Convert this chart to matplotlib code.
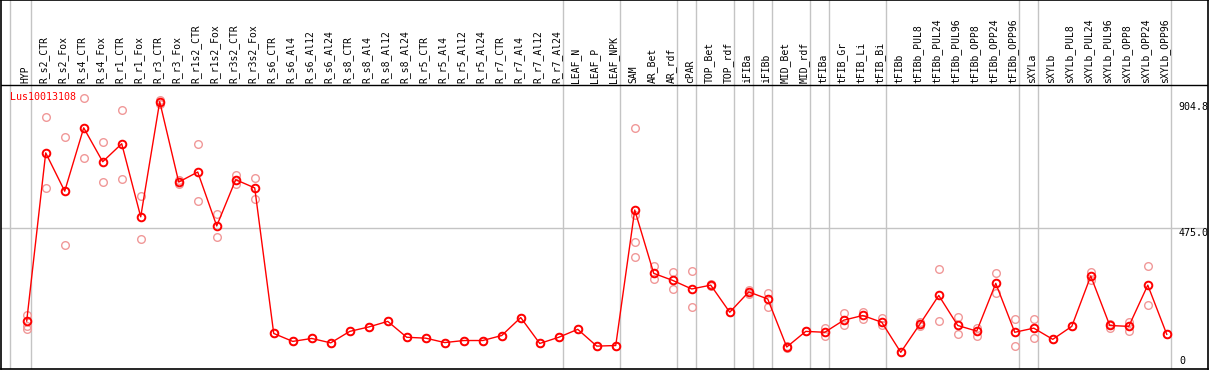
import matplotlib.pyplot as plt
import numpy as np

# samples (x axis)
samples = ["HYP", "R_s2_CTR", "R_s2_Fox", "R_s4_CTR", "R_s4_Fox", "R_r1_CTR", "R_r1_Fox",
           "R_r3_CTR", "R_r3_Fox", "R_r1s2_CTR", "R_r1s2_Fox", "R_r3s2_CTR", "R_r3s2_Fox",
           "R_s6_CTR", "R_s6_Al4", "R_s6_Al12", "R_s6_Al24", "R_s8_CTR", "R_s8_Al4",
           "R_s8_Al12", "R_s8_Al24", "R_r5_CTR", "R_r5_Al4", "R_r5_Al12", "R_r5_Al24",
           "R_r7_CTR", "R_r7_Al4", "R_r7_Al12", "R_r7_Al24", "LEAF_N", "LEAF_P", "LEAF_NPK",
           "SAM", "AR_Bet", "AR_rdf", "cPAR", "TOP_Bet", "TOP_rdf", "iFIBa", "iFIBb",
           "MID_Bet", "MID_rdf", "tFIBa", "tFIB_Gr", "tFIB_Li", "tFIB_Bi", "tFIBb",
           "tFIBb_PUL8", "tFIBb_PUL24", "tFIBb_PUL96", "tFIBb_OPP8", "tFIBb_OPP24",
           "tFIBb_OPP96", "sXYLa", "sXYLb", "sXYLb_PUL8", "sXYLb_PUL24", "sXYLb_PUL96",
           "sXYLb_OPP8", "sXYLb_OPP24", "sXYLb_OPP96"]

# mean expression
means = [160, 731, 601, 816, 701, 762, 514, 904.8, 632, 666, 483, 640, 612,
         118, 91, 101, 86, 125, 140, 159, 105, 102, 87, 94, 94, 111, 172, 84, 105,
         132, 75, 77,
         537, 322, 298, 269, 282, 190, 259, 235, 72, 125, 122, 163, 179, 156, 54,
         149, 247, 145, 126, 288, 122, 136, 98, 142, 313, 145, 142, 282, 115]

# replicates
reps = [[179, 144, 132], [853, 611], [785, 419], [919, 714], [768, 632], [877, 643],
        [584, 438], [910, 898], [640, 625], [762, 568], [524, 446], [655, 626], [646, 575],
        [118], [91], [101], [86], [125], [140], [159], [105], [102], [87], [94], [94],
        [111], [172], [84], [105], [132], [75], [77],
        [816, 521, 429, 378], [347, 302], [327, 269], [330, 207], [285, 280], [190],
        [265, 251], [256, 209], [74, 69], [125], [135, 109], [187, 146], [190, 166],
        [171, 146], [54], [157, 143], [336, 159], [174, 117], [137, 110], [322, 254],
        [166, 75], [166, 101], [98], [142], [328, 298], [151, 135], [157, 127],
        [347, 213], [115]]

gene = "Lus10013108"
ymax = 904.8
ymid = 475.0
sep_after = [-1.08, 0, 28, 31, 34, 35, 37, 38, 39, 41, 42, 45, 52, 53, 60]

mono = "DejaVu Sans Mono"
fig = plt.figure(figsize=(12.09, 3.70), dpi=100)
ax = fig.add_axes([1/1209, 1/370, 1207/1209, 369/370])

x = np.arange(len(samples))
for xi, r in zip(x, reps):
    ax.plot([xi]*len(r), r, 'o', ms=5.5, mfc='none', mec='#f09898', mew=1.0, zorder=2)
ax.plot(x, means, '-', color='#ff0000', lw=1.0, zorder=3)
ax.plot(x, means, 'o', ms=5.5, mfc='none', mec='#ff0000', mew=1.4, zorder=4)

for s in sep_after:
    ax.axvline(s + 0.2, color='#c4c4c4', lw=1.0, zorder=1)
ax.axhline(ymid, color='#c4c4c4', lw=1.0, zorder=1)
ax.axhline(961.3, color='black', lw=1.0, zorder=5)

for xi, s in zip(x, samples):
    ax.text(xi - 0.09, 968, s, rotation=90, ha='center', va='bottom',
            fontsize=7.0, family=mono)

ax.text(-0.9, 920, gene, color='#ff0000', fontsize=7.2, family=mono, va='center')
ax.text(60.6, ymax, "%.1f" % ymax, fontsize=7.2, family=mono, va='top')
ax.text(60.6, ymid, "%.1f" % ymid, fontsize=7.2, family=mono, va='top')
ax.text(60.65, 7, "0", fontsize=7.2, family=mono, va='bottom')

ax.set_xlim(-1.353, 62.17)
ax.set_ylim(-2.7, 1250)
ax.set_xticks([])
ax.set_yticks([])
for sp in ax.spines.values():
    sp.set_linewidth(1.2)

fig.savefig("out.png", dpi=100)
